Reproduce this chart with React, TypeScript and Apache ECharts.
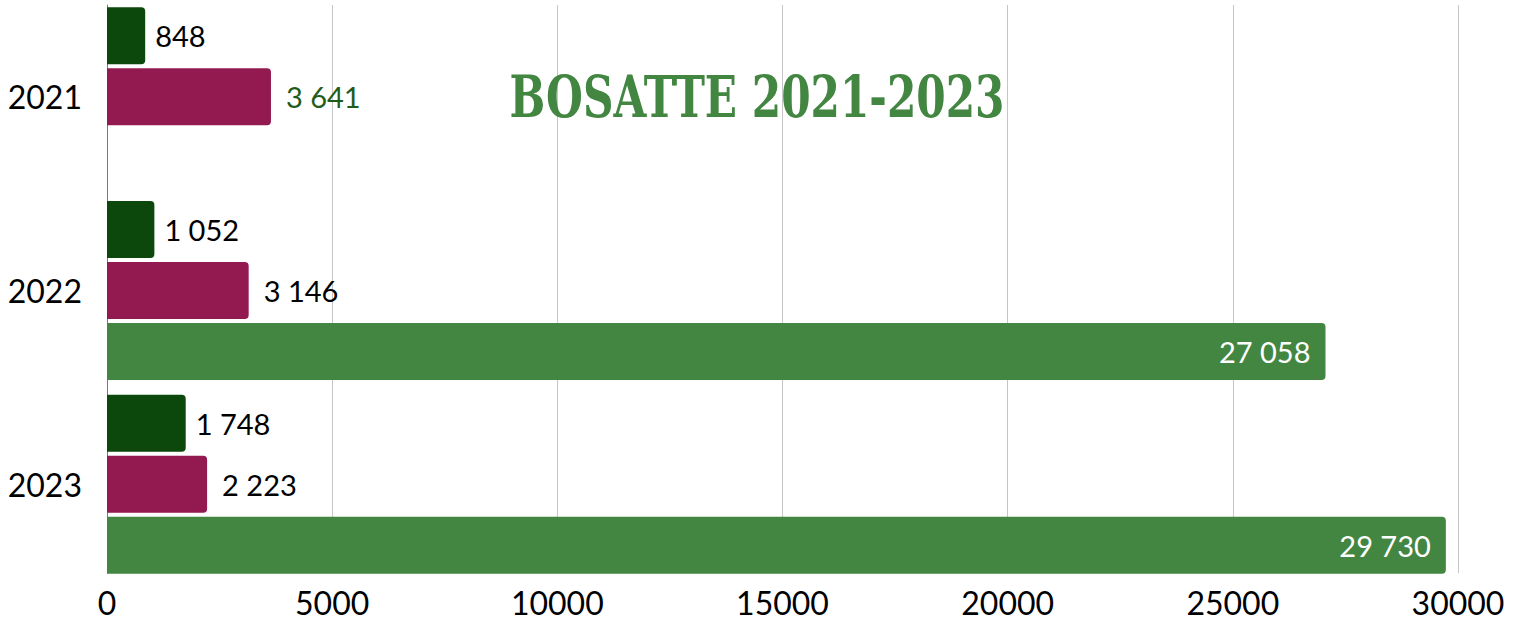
import React, { useEffect, useRef } from "react";
import * as echarts from "echarts";

const categories = ["2021", "2022", "2023"];
const seriesA = [848, 1052, 1748];
const seriesB = [3641, 3146, 2223];
const seriesC: (number | null)[] = [null, 27058, 29730];
const xTicks = { min: 0, max: 30000, interval: 5000 };
const title = "BOSATTE 2021-2023";

const fmt = (v: number) => String(Math.round(v)).replace(/\B(?=(\d{3})+(?!\d))/g, " ");

export default function App() {
  const ref = useRef<HTMLDivElement>(null);
  useEffect(() => {
    if (!ref.current) return;
    const chart = echarts.init(ref.current, null, { renderer: "svg" });
    const labelFont = "Lato";
    chart.setOption({
      animation: false,
      backgroundColor: "#ffffff",
      grid: [
        { left: 107, right: 62, top: 5, height: 568, containLabel: false },
        { left: 107, right: 62, top: -2, height: 583, containLabel: false },
      ],
      xAxis: [
        {
          gridIndex: 0,
          type: "value",
          min: xTicks.min,
          max: xTicks.max,
          interval: xTicks.interval,
          axisLine: { show: false },
          axisTick: { show: false },
          splitLine: { show: true, lineStyle: { color: "#c6c6c6", width: 1 } },
          axisLabel: {
            color: "#000",
            fontFamily: labelFont,
            fontSize: 32,
            margin: 13,
            formatter: (v: number) => String(v),
          },
        },
        {
          gridIndex: 1,
          type: "value",
          min: xTicks.min,
          max: xTicks.max,
          interval: xTicks.interval,
          show: false,
        },
      ],
      yAxis: [
        {
          gridIndex: 0,
          type: "category",
          data: categories,
          inverse: true,
          axisLine: { show: true, lineStyle: { color: "#7a7a7a", width: 1 } },
          axisTick: { show: false },
          axisLabel: { show: false },
          splitLine: { show: false },
        },
        {
          gridIndex: 1,
          type: "category",
          data: categories,
          inverse: true,
          axisLine: { show: false },
          axisTick: { show: false },
          axisLabel: { color: "#000", fontFamily: labelFont, fontSize: 32, margin: 25 },
        },
      ],
      series: [
        {
          type: "bar",
          xAxisIndex: 1,
          yAxisIndex: 1,
          data: seriesA,
          barWidth: 57,
          barGap: "7%",
          itemStyle: { color: "#0c470c", borderRadius: [0, 4, 4, 0] },
          label: {
            show: true,
            position: "right",
            distance: 10,
            color: "#000",
            fontFamily: labelFont,
            fontSize: 29,
            formatter: (p: any) => fmt(p.value),
          },
        },
        {
          type: "bar",
          xAxisIndex: 1,
          yAxisIndex: 1,
          data: seriesB.map((v, i) =>
            i === 0 ? { value: v, label: { color: "#1f5c1a" } } : v
          ),
          barWidth: 57,
          barGap: "7%",
          itemStyle: { color: "#921a50", borderRadius: [0, 4, 4, 0] },
          label: {
            show: true,
            position: "right",
            distance: 15,
            color: "#000",
            fontFamily: labelFont,
            fontSize: 29,
            formatter: (p: any) => fmt(p.value),
          },
        },
        {
          type: "bar",
          xAxisIndex: 1,
          yAxisIndex: 1,
          data: seriesC,
          barWidth: 57,
          barGap: "7%",
          itemStyle: { color: "#428642", borderRadius: [0, 4, 4, 0] },
          label: {
            show: true,
            position: "insideRight",
            distance: 15,
            color: "#fff",
            fontFamily: labelFont,
            fontSize: 29,
            formatter: (p: any) => (p.value == null ? "" : fmt(p.value)),
          },
        },
      ],
      graphic: [
        {
          type: "text",
          x: 757,
          y: 96,
          scaleX: 0.81,
          originX: 0,
          originY: 0,
          style: {
            text: title,
            fill: "#428642",
            font: "bold 58px 'DejaVu Serif Condensed', 'DejaVu Serif'",
            align: "center",
            verticalAlign: "middle",
          },
          z: 10,
        },
      ],
    });
    return () => chart.dispose();
  }, []);
  return (
    <div
      ref={ref}
      style={{ position: "fixed", left: 0, top: 0, width: 1520, height: 622 }}
    />
  );
}
